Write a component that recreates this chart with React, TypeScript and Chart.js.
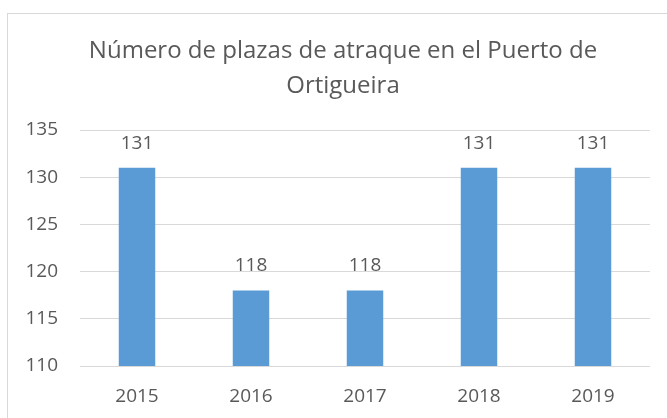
import React, { useEffect, useRef } from "react";
import { Chart, registerables } from "chart.js";

Chart.register(...registerables);

const categories = ["2015", "2016", "2017", "2018", "2019"];
const plazas = [131, 118, 118, 131, 131];
const yTicks = [110, 115, 120, 125, 130, 135];
const titleLines = ["Número de plazas de atraque en el Puerto de", "Ortigueira"];

const TEXT = "#595959";
const FONT = "'Open Sans', sans-serif";

const valueLabels = {
  id: "valueLabels",
  afterDatasetsDraw(chart: any) {
    const ctx = chart.ctx;
    const meta = chart.getDatasetMeta(0);
    ctx.save();
    ctx.font = `19px ${FONT}`;
    ctx.fillStyle = TEXT;
    ctx.textAlign = "center";
    ctx.textBaseline = "alphabetic";
    meta.data.forEach((el: any, i: number) => {
      ctx.fillText(String(chart.data.datasets[0].data[i]), el.x, el.y - 19);
    });
    ctx.restore();
  },
};

const boxTitle = {
  id: "boxTitle",
  afterDraw(chart: any) {
    const ctx = chart.ctx;
    ctx.save();
    ctx.font = `24px ${FONT}`;
    ctx.fillStyle = TEXT;
    ctx.textAlign = "center";
    ctx.textBaseline = "middle";
    titleLines.forEach((line, i) => {
      ctx.fillText(line, 343, 51.5 + i * 35);
    });
    ctx.restore();
  },
};

export default function App() {
  const ref = useRef<HTMLCanvasElement>(null);
  useEffect(() => {
    if (!ref.current) return;
    const chart = new Chart(ref.current, {
      type: "bar",
      data: {
        labels: categories,
        datasets: [
          {
            data: plazas,
            backgroundColor: "#5B9BD5",
            barPercentage: 0.32,
            categoryPercentage: 1,
          },
        ],
      },
      options: {
        animation: false,
        responsive: false,
        maintainAspectRatio: false,
        layout: { padding: { left: 0, right: 17, top: 130, bottom: 0 } },
        plugins: {
          legend: { display: false },
          tooltip: { enabled: false },
          title: { display: false },
        },
        scales: {
          x: {
            grid: { display: false, drawTicks: false },
            border: { display: false },
            ticks: { color: TEXT, font: { family: FONT, size: 19 }, padding: 19 },
            afterFit(s: any) {
              s.height = 52;
            },
          },
          y: {
            min: 110,
            max: 135,
            afterBuildTicks(s: any) {
              s.ticks = yTicks.map((v) => ({ value: v }));
            },
            grid: { color: "#D9D9D9", drawTicks: false, lineWidth: 1 },
            border: { display: false },
            ticks: { color: TEXT, font: { family: FONT, size: 19 }, padding: 22 },
            afterFit(s: any) {
              s.width = 80;
            },
          },
        },
      },
      plugins: [valueLabels, boxTitle],
    });
    return () => chart.destroy();
  }, []);
  return (
    <div style={{ position: "absolute", left: 0, top: 0, width: 667, height: 418, overflow: "hidden", background: "#fff" }}>
      <div
        style={{
          position: "absolute",
          left: 7,
          top: 13,
          width: 680,
          height: 420,
          border: "1px solid #D9D9D9",
          boxSizing: "border-box",
        }}
      />
      <canvas ref={ref} width={667} height={418} style={{ position: "absolute", left: 0, top: 0, width: 667, height: 418 }} />
    </div>
  );
}
